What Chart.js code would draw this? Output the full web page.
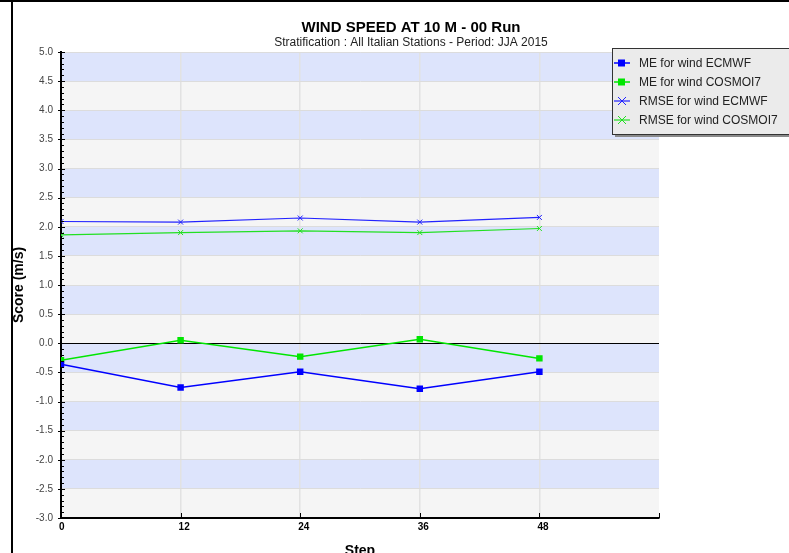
<!DOCTYPE html>
<html lang="en">
<head>
    <meta charset="UTF-8">
    <title>Wind speed at 10 m - 00 Run</title>
    <script src="https://cdn.jsdelivr.net/npm/chart.js"></script>
    <style>
        body {
            margin: 0;
            background: #fff;
        }
        #wrap {
            width: 789px;
            height: 553px;
        }
    </style>
</head>
<body>
    <div id="wrap"><canvas id="scoreChart"></canvas></div>

    <script>
        // forecast steps (hours)
        const steps = [0, 12, 24, 36, 48];

        // scores
        const meEcmwf = [-0.36, -0.76, -0.49, -0.78, -0.49];
        const meCosmo = [-0.29, 0.05, -0.23, 0.07, -0.26];
        const rmseEcmwf = [2.09, 2.08, 2.15, 2.08, 2.16];
        const rmseCosmo = [1.86, 1.90, 1.93, 1.90, 1.97];

        const seriesLabels = [
            'ME for wind ECMWF',
            'ME for wind COSMOI7',
            'RMSE for wind ECMWF',
            'RMSE for wind COSMOI7'
        ];

        const title = 'WIND SPEED AT 10 M - 00 Run';
        const subtitle = 'Stratification : All Italian Stations - Period: JJA 2015';

        function toPoints(values) {
            return steps.map((s, i) => ({ x: s, y: values[i] }));
        }

        // striped background, minor ticks, frame
        const backdrop = {
            id: 'backdrop',
            beforeDraw(chart) {
                const ctx = chart.ctx;
                const area = chart.chartArea;
                const y = chart.scales.y;
                ctx.save();
                for (let v = y.min; v < y.max; v += 0.5) {
                    const top = y.getPixelForValue(v + 0.5);
                    const bottom = y.getPixelForValue(v);
                    const blue = Math.abs((v + 0.5) - Math.round(v + 0.5)) < 0.01;
                    ctx.fillStyle = blue ? '#dde4fc' : '#f5f5f5';
                    ctx.fillRect(area.left, top, area.right - area.left, bottom - top);
                }
                ctx.restore();
            },
            afterDraw(chart) {
                const ctx = chart.ctx;
                const area = chart.chartArea;
                const y = chart.scales.y;
                const x = chart.scales.x;
                ctx.save();
                ctx.strokeStyle = '#000';
                ctx.lineWidth = 1;
                // y minor / major ticks
                for (let i = 0; i <= 80; i++) {
                    const py = Math.round(y.getPixelForValue(y.min + i * 0.1)) + 0.5;
                    ctx.beginPath();
                    if (i % 5 === 0) {
                        ctx.moveTo(area.left - 3, py);
                        ctx.lineTo(area.left + 4, py);
                    } else {
                        ctx.moveTo(area.left, py);
                        ctx.lineTo(area.left + 3, py);
                    }
                    ctx.stroke();
                }
                // x ticks
                for (let s = 12; s <= 60; s += 12) {
                    const px = Math.round(x.getPixelForValue(s)) + 0.5;
                    ctx.beginPath();
                    ctx.moveTo(px, area.bottom - 5);
                    ctx.lineTo(px, area.bottom);
                    ctx.stroke();
                }

                // titles
                ctx.fillStyle = '#000';
                ctx.textAlign = 'center';
                ctx.textBaseline = 'alphabetic';
                ctx.font = 'bold 15px "Liberation Sans", Arial, sans-serif';
                ctx.fillText(title, 411, 32);
                ctx.fillStyle = '#222';
                ctx.font = '12px "Liberation Sans", Arial, sans-serif';
                ctx.fillText(subtitle, 411, 46);

                ctx.fillStyle = '#000';
                ctx.font = 'bold 14px "Liberation Sans", Arial, sans-serif';
                ctx.fillText('Step', (area.left + area.right) / 2, 555);
                ctx.save();
                ctx.translate(23, (area.top + area.bottom) / 2);
                ctx.rotate(-Math.PI / 2);
                ctx.fillText('Score (m/s)', 0, 0);
                ctx.restore();

                // legend box
                const lx = 612, ly = 48, lh = 86;
                ctx.fillStyle = '#8a8a8a';
                ctx.fillRect(lx + 3, ly + 3, 200, lh);
                ctx.fillStyle = '#ebebeb';
                ctx.fillRect(lx, ly, 200, lh);
                ctx.strokeStyle = '#333';
                ctx.lineWidth = 1;
                ctx.strokeRect(lx + 0.5, ly + 0.5, 200, lh);

                ctx.textAlign = 'left';
                ctx.textBaseline = 'middle';
                ctx.font = '12px "Liberation Sans", Arial, sans-serif';
                chart.data.datasets.forEach((ds, i) => {
                    const cy = ly + 15 + i * 19;
                    ctx.strokeStyle = ds.borderColor;
                    ctx.lineWidth = ds.borderWidth;
                    ctx.beginPath();
                    ctx.moveTo(lx + 2, cy);
                    ctx.lineTo(lx + 18, cy);
                    ctx.stroke();
                    if (ds.pointStyle === 'rect') {
                        ctx.fillStyle = ds.borderColor;
                        ctx.fillRect(lx + 6, cy - 3.5, 7, 7);
                    } else {
                        ctx.lineWidth = 1;
                        ctx.beginPath();
                        ctx.moveTo(lx + 6, cy - 4);
                        ctx.lineTo(lx + 14, cy + 4);
                        ctx.moveTo(lx + 6, cy + 4);
                        ctx.lineTo(lx + 14, cy - 4);
                        ctx.stroke();
                    }
                    ctx.fillStyle = '#222';
                    ctx.fillText(ds.label, lx + 27, cy + 1);
                });

                // outer frame
                ctx.fillStyle = '#000';
                ctx.fillRect(0, 0, 789, 2);
                ctx.fillRect(11, 0, 2, 553);
                ctx.restore();
            }
        };

        const ctx = document.getElementById('scoreChart').getContext('2d');
        new Chart(ctx, {
            type: 'line',
            data: {
                datasets: [
                    {
                        label: seriesLabels[0],
                        data: toPoints(meEcmwf),
                        borderColor: '#0000ff',
                        backgroundColor: '#0000ff',
                        borderWidth: 1.5,
                        pointStyle: 'rect',
                        pointRadius: 3.5
                    },
                    {
                        label: seriesLabels[1],
                        data: toPoints(meCosmo),
                        borderColor: '#00e600',
                        backgroundColor: '#00e600',
                        borderWidth: 1.5,
                        pointStyle: 'rect',
                        pointRadius: 3.5
                    },
                    {
                        label: seriesLabels[2],
                        data: toPoints(rmseEcmwf),
                        borderColor: '#2222ff',
                        backgroundColor: '#2222ff',
                        borderWidth: 1.2,
                        pointStyle: 'crossRot',
                        pointRadius: 3.5,
                        pointBorderWidth: 1
                    },
                    {
                        label: seriesLabels[3],
                        data: toPoints(rmseCosmo),
                        borderColor: '#22e022',
                        backgroundColor: '#22e022',
                        borderWidth: 1.2,
                        pointStyle: 'crossRot',
                        pointRadius: 3.5,
                        pointBorderWidth: 1
                    }
                ]
            },
            options: {
                responsive: true,
                maintainAspectRatio: false,
                animation: false,
                layout: {
                    padding: { left: 0, right: 130, top: 52, bottom: 0 }
                },
                plugins: {
                    legend: { display: false },
                    tooltip: { enabled: false }
                },
                elements: {
                    line: { tension: 0 }
                },
                scales: {
                    x: {
                        type: 'linear',
                        min: 0,
                        max: 60,
                        afterFit(scale) { scale.height = 35; },
                        ticks: {
                            stepSize: 12,
                            align: 'start',
                            labelOffset: -2,
                            padding: 3,
                            color: '#000',
                            font: { family: '"Liberation Sans", Arial, sans-serif', size: 10, weight: 'bold' },
                            callback: v => (v === 60 ? '' : v)
                        },
                        grid: {
                            drawTicks: false,
                            lineWidth: 1.5,
                            color: c => (c.tick && (c.tick.value === 0 || c.tick.value === 60) ? 'rgba(0,0,0,0)' : '#e2e2e2')
                        },
                        border: { display: true, color: '#000', width: 2 }
                    },
                    y: {
                        min: -3,
                        max: 5,
                        afterFit(scale) { scale.width = 61; },
                        ticks: {
                            stepSize: 0.5,
                            padding: 8,
                            color: '#444',
                            font: { family: '"Liberation Sans", Arial, sans-serif', size: 10 },
                            callback: v => v.toFixed(1)
                        },
                        grid: {
                            drawTicks: false,
                            lineWidth: 1,
                            color: c => (c.tick && c.tick.value === 0 ? '#000' : '#dcdcdc')
                        },
                        border: { display: true, color: '#000', width: 2 }
                    }
                }
            },
            plugins: [backdrop]
        });
    </script>
</body>
</html>
